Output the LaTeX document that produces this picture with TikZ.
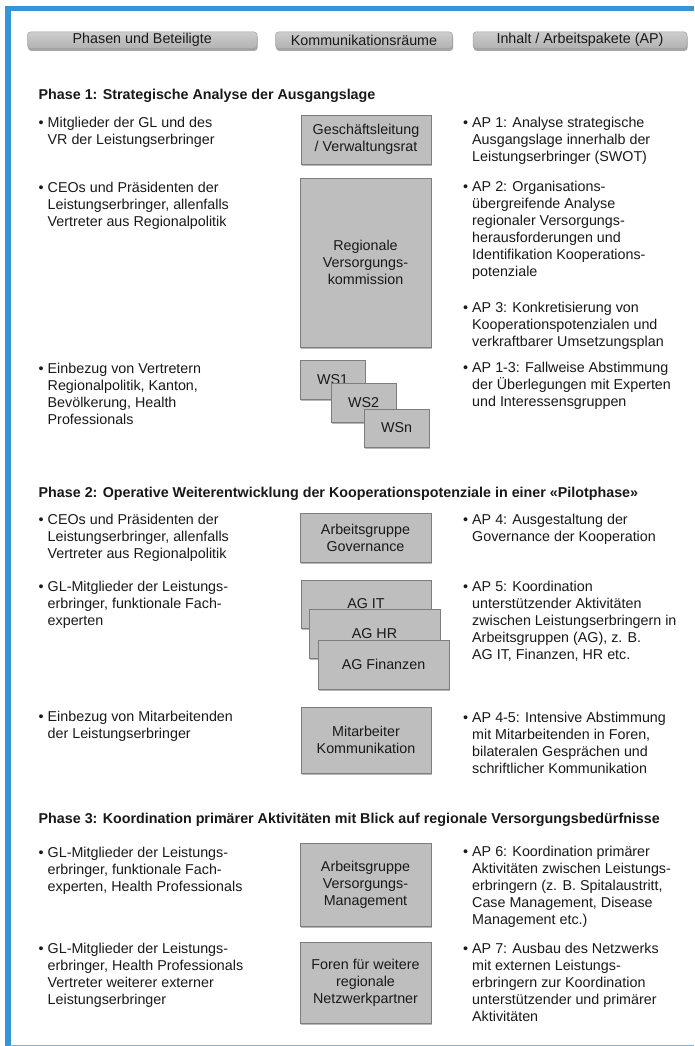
\documentclass[tikz,border=0pt]{standalone}
\usepackage{fontspec}
\setmainfont{Liberation Sans}
\usetikzlibrary{shadows}
\definecolor{frameblue}{RGB}{52,150,216}
\definecolor{framelight}{RGB}{120,178,222}
\definecolor{boxfill}{RGB}{190,190,190}
\definecolor{boxborder}{RGB}{125,125,125}
\definecolor{hdrtop}{RGB}{205,205,205}
\definecolor{hdrbot}{RGB}{178,178,178}
\definecolor{hdrborder}{RGB}{160,160,160}
\definecolor{txtcol}{RGB}{25,25,25}
\newcommand{\blist}[1]{\begin{tabular}[t]{@{}p{9pt}@{}l@{}}\textbullet & #1\end{tabular}}
\begin{document}
\begin{tikzpicture}[x=1pt,y=-1pt,
  every node/.style={font=\fontsize{14.3}{17}\selectfont, inner sep=0pt, text=txtcol},
  box/.style={draw=boxborder, fill=boxfill, line width=0.7pt, align=center,
    drop shadow={shadow xshift=1.2pt, shadow yshift=-2.4pt, fill=black, opacity=0.28}},
  hdr/.style={rounded corners=3pt, draw=hdrborder, line width=0.5pt, top color=hdrtop, bottom color=hdrbot,
    minimum height=16.5pt,
    drop shadow={shadow xshift=0.6pt, shadow yshift=-2.4pt, fill=black, opacity=0.35}},
  txt/.style={anchor=base west},
  phasetitle/.style={anchor=base west, font=\bfseries\fontsize{14.3}{17}\selectfont}
]
\path[use as bounding box] (0,0) rectangle (694,1046);
\fill[white] (0,0) rectangle (694,1046);

% frame
\draw[frameblue, line width=5.5pt] (5.2,8.5) -- (694,8.5);
\draw[frameblue, line width=5.5pt] (8,5.75) -- (8,1046);
\draw[framelight, line width=1.4pt] (10,1045.2) -- (694,1045.2);

% header
\node[hdr, minimum width=229.5pt] (h1) at (142.25,40.2) {Phasen und Beteiligte};
\node[hdr, minimum width=177pt] (h2) at (364,40.2) {Kommunikationsräume};
\node[hdr, minimum width=214pt] (h3) at (580,40.2) {Inhalt / Arbeitspakete (AP)};

% Phase 1
\node[phasetitle] (p1) at (38.5,100) {Phase 1: Strategische Analyse der Ausgangslage};

\node[txt] (l1) at (38.5,128) {\blist{Mitglieder der GL und des\\ & VR der Leistungserbringer}};
\node[txt] (l2) at (38.5,192) {\blist{CEOs und Präsidenten der\\ & Leistungserbringer, allenfalls\\ & Vertreter aus Regionalpolitik}};
\node[txt] (l3) at (38.5,373) {\blist{Einbezug von Vertretern\\ & Regionalpolitik, Kanton,\\ & Bevölkerung, Health\\ & Professionals}};

\node[box, minimum width=130pt, minimum height=49pt] (gl) at (366,139.5) {Geschäftsleitung\\/ Verwaltungsrat};
\node[box, minimum width=131pt, minimum height=169pt] (rvk) at (365.5,262.5) {Regionale\\Versorgungs-\\kommission};
\node[box, minimum width=65pt, minimum height=39pt] (ws1) at (332.5,379.5) {WS1};
\node[box, minimum width=65pt, minimum height=39pt] (ws2) at (363.5,402.5) {WS2};
\node[box, minimum width=65pt, minimum height=38pt] (wsn) at (396.5,428) {WSn};

\node[txt] (r1) at (463,128) {\blist{AP 1: Analyse strategische\\ & Ausgangslage innerhalb der\\ & Leistungserbringer (SWOT)}};
\node[txt] (r2) at (463,191) {\blist{AP 2: Organisations-\\ & übergreifende Analyse\\ & regionaler Versorgungs-\\ & herausforderungen und\\ & Identifikation Kooperations-\\ & potenziale}};
\node[txt] (r3) at (463,312) {\blist{AP 3: Konkretisierung von\\ & Kooperationspotenzialen und\\ & verkraftbarer Umsetzungsplan}};
\node[txt] (r4) at (463,372) {\blist{AP 1-3: Fallweise Abstimmung\\ & der Überlegungen mit Experten\\ & und Interessensgruppen}};

% Phase 2
\node[phasetitle] (p2) at (38.5,497) {Phase 2: Operative Weiterentwicklung der Kooperationspotenziale in einer «Pilotphase»};

\node[txt] (l4) at (38.5,524) {\blist{CEOs und Präsidenten der\\ & Leistungserbringer, allenfalls\\ & Vertreter aus Regionalpolitik}};
\node[txt] (l5) at (38.5,591) {\blist{GL-Mitglieder der Leistungs-\\ & erbringer, funktionale Fach-\\ & experten}};
\node[txt] (l6) at (38.5,721) {\blist{Einbezug von Mitarbeitenden\\ & der Leistungserbringer}};

\node[box, minimum width=131pt, minimum height=49pt] (gov) at (365.5,537.5) {Arbeitsgruppe\\Governance};
\node[box, minimum width=130pt, minimum height=48pt] (agit) at (366,604) {AG IT};
\node[box, minimum width=131pt, minimum height=49pt] (aghr) at (374.5,633.5) {AG HR};
\node[box, minimum width=131pt, minimum height=49pt] (agfin) at (383.5,664.5) {AG Finanzen};
\node[box, minimum width=130pt, minimum height=66pt] (mak) at (366,740) {Mitarbeiter\\Kommunikation};

\node[txt] (r5) at (463,524) {\blist{AP 4: Ausgestaltung der\\ & Governance der Kooperation}};
\node[txt] (r6) at (463,591) {\blist{AP 5: Koordination\\ & unterstützender Aktivitäten\\ & zwischen Leistungserbringern in\\ & Arbeitsgruppen (AG), z. B.\\ & AG IT, Finanzen, HR etc.}};
\node[txt] (r7) at (463,722) {\blist{AP 4-5: Intensive Abstimmung\\ & mit Mitarbeitenden in Foren,\\ & bilateralen Gesprächen und\\ & schriftlicher Kommunikation}};

% Phase 3
\node[phasetitle] (p3) at (38.5,823) {Phase 3: Koordination primärer Aktivitäten mit Blick auf regionale Versorgungsbedürfnisse};

\node[txt] (l7) at (38.5,857) {\blist{GL-Mitglieder der Leistungs-\\ & erbringer, funktionale Fach-\\ & experten, Health Professionals}};
\node[txt] (l8) at (38.5,953) {\blist{GL-Mitglieder der Leistungs-\\ & erbringer, Health Professionals\\ & Vertreter weiterer externer\\ & Leistungserbringer}};

\node[box, minimum width=131pt, minimum height=83pt] (vm) at (365.5,884.5) {Arbeitsgruppe\\Versorgungs-\\Management};
\node[box, minimum width=131pt, minimum height=81pt] (foren) at (365.5,982.5) {Foren für weitere\\regionale\\Netzwerkpartner};

\node[txt] (r8) at (463,856) {\blist{AP 6: Koordination primärer\\ & Aktivitäten zwischen Leistungs-\\ & erbringern (z. B. Spitalaustritt,\\ & Case Management, Disease\\ & Management etc.)}};
\node[txt] (r9) at (463,953) {\blist{AP 7: Ausbau des Netzwerks\\ & mit externen Leistungs-\\ & erbringern zur Koordination\\ & unterstützender und primärer\\ & Aktivitäten}};
\end{tikzpicture}
\end{document}
